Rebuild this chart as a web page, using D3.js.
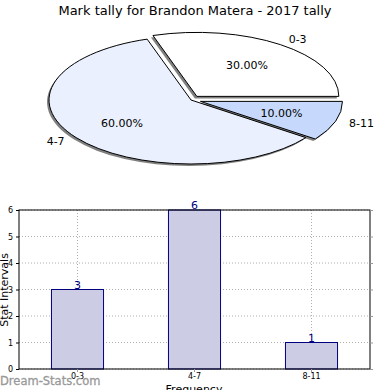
<!DOCTYPE html>
<html><head><meta charset="utf-8">
<script src="https://cdn.jsdelivr.net/npm/d3@7"></script>
<style>body{margin:0;background:#fff}svg{display:block;font-family:"DejaVu Sans",sans-serif}</style>
</head><body><svg id="c" width="390" height="390"></svg>
<script>
const categories = ["0-3", "4-7", "8-11"];
const counts = [3, 6, 1];
const pieColors = ["#ffffff", "#eaf0fd", "#c6d8fc"];
const explode = [0.07, 0, 0.07];
const yTicks = [0, 1, 2, 3, 4, 5, 6];
const title = "Mark tally for Brandon Matera - 2017 tally";

const svg = d3.select("#c");
svg.append("text").attr("x", 195).attr("y", 15).attr("text-anchor", "middle")
  .attr("font-size", 13).text(title);

// Pie (ellipse via scale)
const cx = 191, cy = 100, rx = 142, ry = 64;
const total = d3.sum(counts);
const pieGen = d3.pie().sort(null).startAngle(Math.PI/2).endAngle(Math.PI/2 - 2*Math.PI);
const arcs = pieGen(counts);
const arc = d3.arc().innerRadius(0).outerRadius(1);
const pg = svg.append("g");
function off(d, i, k) {
  const mid = (d.startAngle + d.endAngle) / 2;
  return [Math.sin(mid) * k, -Math.cos(mid) * k];
}
arcs.forEach((d, i) => {
  const [ox, oy] = off(d, i, explode[i]);
  pg.append("path").attr("d", arc(d))
    .attr("transform", `translate(${cx + ox*rx - 2},${cy + oy*ry + 2}) scale(${rx},${ry})`)
    .attr("fill", "#808080").attr("stroke", "none");
});
arcs.forEach((d, i) => {
  const [ox, oy] = off(d, i, explode[i]);
  pg.append("path").attr("d", arc(d))
    .attr("transform", `translate(${cx + ox*rx},${cy + oy*ry}) scale(${rx},${ry})`)
    .attr("fill", pieColors[i]).attr("stroke", "#000").attr("stroke-width", 1)
    .attr("vector-effect", "non-scaling-stroke").attr("stroke-linejoin", "round");
});
arcs.forEach((d, i) => {
  const [ox, oy] = off(d, i, explode[i]);
  const mid = (d.startAngle + d.endAngle) / 2;
  const ux = Math.sin(mid), uy = -Math.cos(mid);
  const pct = (counts[i] / total * 100).toFixed(2) + "%";
  pg.append("text").attr("x", cx + (ox + ux*0.6)*rx).attr("y", cy + (oy + uy*0.6)*ry + 4)
    .attr("text-anchor", "middle").attr("font-size", 11).text(pct);
  pg.append("text").attr("x", cx + (ox + ux*1.1)*rx).attr("y", cy + (oy + uy*1.1)*ry + 4)
    .attr("text-anchor", ux >= 0 ? "start" : "end").attr("font-size", 11).text(categories[i]);
});

// Bar chart
const L = 19, R = 370, T = 210, B = 369;
const x = d3.scaleBand().domain(categories).range([L, R]).paddingInner(0).paddingOuter(0);
const y = d3.scaleLinear().domain([0, 6]).range([B, T]);
const bw = x.bandwidth() * 0.445;
const g = svg.append("g");
yTicks.forEach(t => {
  g.append("line").attr("x1", L).attr("x2", R).attr("y1", y(t)).attr("y2", y(t))
    .attr("stroke", "#b0b0b0").attr("stroke-dasharray", "1,2");
});
categories.forEach(c => {
  const xc = x(c) + x.bandwidth()/2;
  g.append("line").attr("x1", xc).attr("x2", xc).attr("y1", T).attr("y2", B)
    .attr("stroke", "#b0b0b0").attr("stroke-dasharray", "1,2");
});
categories.forEach((c, i) => {
  const xc = x(c) + x.bandwidth()/2;
  g.append("rect").attr("x", xc - bw/2).attr("y", y(counts[i])).attr("width", bw)
    .attr("height", y(0) - y(counts[i])).attr("fill", "#ccccE5").attr("stroke", "#00007f");
  g.append("text").attr("x", xc).attr("y", y(counts[i]) - 1).attr("text-anchor", "middle")
    .attr("font-size", 11).attr("fill", "#00007f").text(counts[i]);
});
g.append("rect").attr("x", L).attr("y", T).attr("width", R - L).attr("height", B - T)
  .attr("fill", "none").attr("stroke", "#000");
const ya = d3.axisLeft(y).tickValues(yTicks).tickSize(3).tickFormat(d3.format("d"));
const yg = svg.append("g").attr("transform", `translate(${L},0)`).call(ya);
yg.select(".domain").remove();
yg.selectAll("text").attr("font-size", 8).attr("font-family", "DejaVu Sans");
const yr = d3.axisRight(y).tickValues(yTicks).tickSize(3).tickFormat("");
const yrg = svg.append("g").attr("transform", `translate(${R},0)`).call(yr);
yrg.select(".domain").remove();
yrg.selectAll("line").attr("stroke", "#999");
const xa = d3.axisBottom(x).tickSize(3);
const xg = svg.append("g").attr("transform", `translate(0,${B})`).call(xa);
xg.select(".domain").remove();
xg.selectAll("line").attr("stroke", "#999");
xg.selectAll("text").attr("font-size", 8).attr("font-family", "DejaVu Sans").attr("dy", "0.55em");

svg.append("text").attr("transform", "translate(8,290) rotate(-90)").attr("text-anchor", "middle")
  .attr("font-size", 11).text("Stat Intervals");
svg.append("text").attr("x", 194).attr("y", 393).attr("text-anchor", "middle")
  .attr("font-size", 11).text("Frequency");
svg.append("text").attr("x", 0).attr("y", 385).attr("font-size", 11.5)
  .attr("fill", "#999").attr("stroke", "#999").attr("stroke-width", 0.3).text("Dream-Stats.com");
</script></body></html>
